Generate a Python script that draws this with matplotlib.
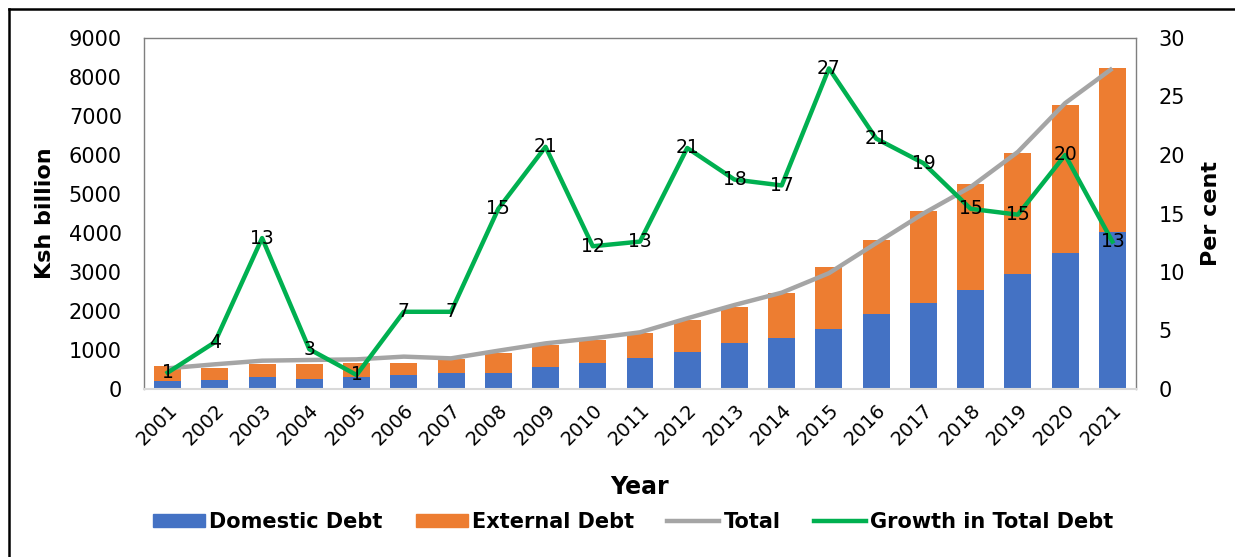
import matplotlib
matplotlib.use("Agg")
import matplotlib.pyplot as plt
import numpy as np
from matplotlib.lines import Line2D
from matplotlib.patches import Patch

plt.rcParams['font.family'] = 'DejaVu Sans'

years = [str(y) for y in range(2001, 2022)]
domestic = [205, 230, 300, 256, 316, 360, 418, 418, 556, 675, 786, 940,
            1170, 1300, 1530, 1923, 2213, 2538, 2940, 3496, 4017]
total_bar = [590, 546, 633, 633, 660, 675, 770, 930, 1128, 1256, 1425, 1770,
             2094, 2470, 3136, 3820, 4573, 5256, 6042, 7273, 8222]
external = [t - d for t, d in zip(total_bar, domestic)]
total_line = [530, 633, 726, 744, 760, 830, 786, 982, 1170, 1300, 1453, 1812,
              2154, 2470, 2970, 3740, 4500, 5180, 6080, 7330, 8220]
growth = [1.4, 4.0, 12.9, 3.4, 1.2, 6.6, 6.6, 15.4, 20.7, 12.2, 12.6, 20.6,
          17.9, 17.4, 27.4, 21.4, 19.3, 15.4, 14.9, 20.0, 12.6]

BLUE = '#4472C4'
ORANGE = '#ED7D31'
GRAY = '#A5A5A5'
GREEN = '#00B050'

fig = plt.figure(figsize=(12.35, 5.57), dpi=100)
ax = fig.add_axes([144 / 1235, 1 - 389 / 557, 992 / 1235, 351 / 557])
x = np.arange(len(years))

ax.bar(x, domestic, width=0.57, color=BLUE, zorder=2)
ax.bar(x, external, width=0.57, bottom=domestic, color=ORANGE, zorder=2)
ax.plot(x, total_line, color=GRAY, lw=3.2, zorder=3, solid_capstyle='butt')

ax.set_xlim(-0.5, len(years) - 0.5)
ax.set_ylim(0, 9000)
ax.set_yticks(range(0, 9001, 1000))
ax.set_xticks(x)
ax.set_xticklabels(years, rotation=45, ha='right', rotation_mode='anchor', fontsize=14)
ax.tick_params(axis='y', length=0, pad=16, labelsize=15)
ax.tick_params(axis='x', length=0, pad=8)
ax.set_ylabel('Ksh billion', fontsize=16, fontweight='bold', labelpad=10)
ax.set_xlabel('Year', fontsize=17, fontweight='bold', labelpad=19)
for side in ['top', 'left', 'right']:
    ax.spines[side].set_color('#7F7F7F')
    ax.spines[side].set_linewidth(1.0)
ax.spines['bottom'].set_color('#D9D9D9')
ax.spines['bottom'].set_linewidth(1.5)

ax2 = ax.twinx()
ax2.plot(x, growth, color=GREEN, lw=3.2, zorder=4)
ax2.set_ylim(0, 30)
ax2.set_yticks(range(0, 31, 5))
ax2.tick_params(axis='y', length=0, pad=16, labelsize=15)
ax2.set_ylabel('Per cent', fontsize=16, fontweight='bold', labelpad=12)
for side in ['top', 'left', 'right', 'bottom']:
    ax2.spines[side].set_visible(False)
for xi, g in zip(x, growth):
    ax2.text(xi, g, f'{g:.0f}', ha='center', va='center', fontsize=13.5,
             color='black', zorder=5)

handles = [Patch(color=BLUE), Patch(color=ORANGE),
           Line2D([], [], color=GRAY, lw=3.2), Line2D([], [], color=GREEN, lw=3.2)]
labels = ['Domestic Debt', 'External Debt', 'Total', 'Growth in Total Debt']
fig.legend(handles, labels, loc='center', bbox_to_anchor=(633 / 1235, 1 - 522 / 557),
           ncol=4, frameon=False, prop={'weight': 'bold', 'size': 15},
           handlelength=2.5, handleheight=0.6, columnspacing=1.6, handletextpad=0.2)

# outer frame
fig.add_artist(Line2D([9 / 1235, 9 / 1235], [0, 1 - 9 / 557], color='black', lw=1.8,
                      transform=fig.transFigure))
fig.add_artist(Line2D([9 / 1235, 1], [1 - 9 / 557, 1 - 9 / 557], color='black', lw=1.8,
                      transform=fig.transFigure))

fig.savefig('out.png', dpi=100)
